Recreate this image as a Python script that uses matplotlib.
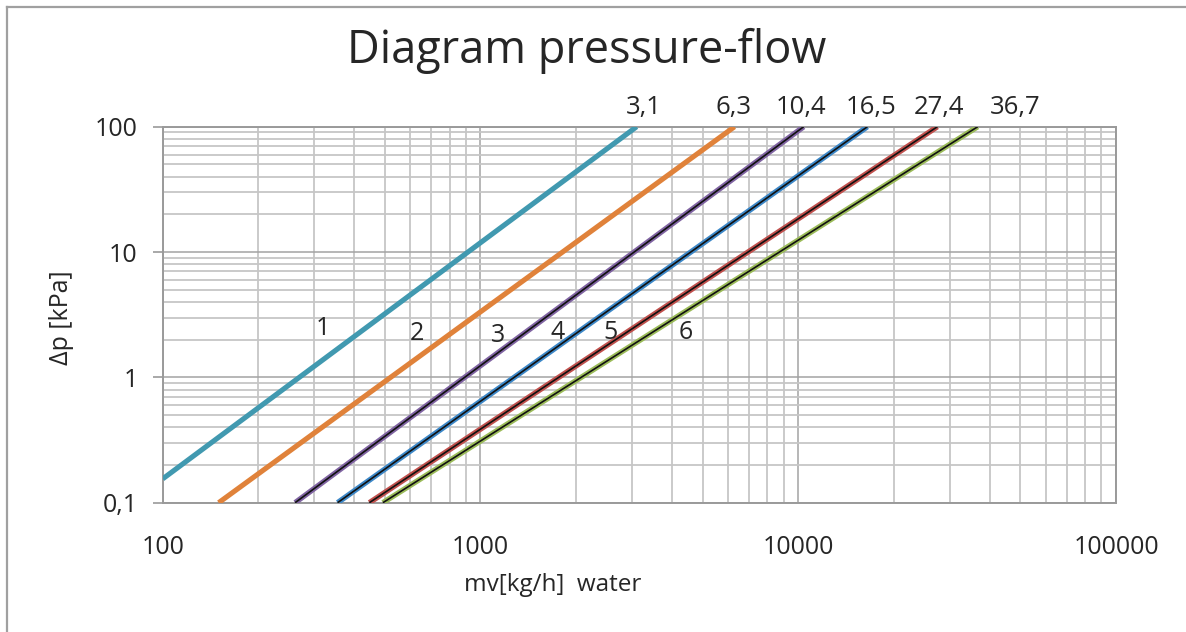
import matplotlib.pyplot as plt
from matplotlib.lines import Line2D
from matplotlib.ticker import FixedLocator, FixedFormatter, LogLocator, NullFormatter

# Data (start and end of each straight line on log-log)
kv_labels = ['3,1', '6,3', '10,4', '16,5', '27,4', '36,7']
curve_names = ['1', '2', '3', '4', '5', '6']
mv_start = [100, 150, 261, 355, 447, 493]
dp_start = [0.155, 0.1, 0.1, 0.1, 0.1, 0.1]
mv_end = [3100, 6300, 10400, 16500, 27400, 36700]
dp_end = [100, 100, 100, 100, 100, 100]

# where the text labels sit (data coords)
name_x = [320, 632, 1137, 1744, 2560, 4410]
name_y = [2.47, 2.25, 2.17, 2.29, 2.29, 2.29]
kv_x = [3253, 6270, 10190, 16940, 27730, 48270]
kv_y = 143

colors = ['#4199b0', '#e0823a', '#8064a2', '#3d88c8', '#c0504d', '#9bbb59']

x_ticks = [100, 1000, 10000, 100000]
x_ticklabels = ['100', '1000', '10000', '100000']
y_ticks = [0.1, 1, 10, 100]
y_ticklabels = ['0,1', '1', '10', '100']

plt.rcParams['font.family'] = ['Open Sans', 'DejaVu Sans']
txt = '#262626'

fig = plt.figure(figsize=(11.86, 6.32), dpi=100)
ax = fig.add_axes([0.1372, 0.2046, 0.941 - 0.1372, 0.7995 - 0.2046])
ax.set_xscale('log')
ax.set_yscale('log')
ax.set_xlim(100, 100000)
ax.set_ylim(0.1, 100)

for i in range(len(mv_start)):
    xs = [mv_start[i], mv_end[i]]
    ys = [dp_start[i], dp_end[i]]
    if i < 2:
        ax.plot(xs, ys, color=colors[i], lw=3.7, solid_capstyle='butt', zorder=3)
    else:
        ax.plot(xs, ys, color=colors[i], lw=3.9, solid_capstyle='butt', zorder=3)
        ax.plot(xs, ys, color='#111111', lw=1.2, solid_capstyle='butt', zorder=4)
    ax.text(name_x[i], name_y[i], curve_names[i], fontsize=18, color=txt,
            ha='center', va='center', zorder=5)
    ax.text(kv_x[i], kv_y, kv_labels[i], fontsize=18.5, color=txt,
            ha='center', va='center', clip_on=False)

ax.xaxis.set_major_locator(FixedLocator(x_ticks))
ax.xaxis.set_major_formatter(FixedFormatter(x_ticklabels))
ax.yaxis.set_major_locator(FixedLocator(y_ticks))
ax.yaxis.set_major_formatter(FixedFormatter(y_ticklabels))
ax.xaxis.set_minor_locator(LogLocator(base=10, subs=range(2, 10)))
ax.yaxis.set_minor_locator(LogLocator(base=10, subs=range(2, 10)))
ax.xaxis.set_minor_formatter(NullFormatter())
ax.yaxis.set_minor_formatter(NullFormatter())

ax.grid(which='major', color='#a3a3a3', lw=1.1)
ax.grid(which='minor', color='#c6c6c6', lw=1.3)
ax.set_axisbelow(True)
for s in ax.spines.values():
    s.set_color('#9a9a9a')
    s.set_linewidth(1.4)

ax.tick_params(axis='y', which='major', length=7, width=1.2, color='#9a9a9a',
               labelsize=18, labelcolor=txt, pad=11)
ax.tick_params(axis='x', which='major', length=0, labelsize=18, labelcolor=txt, pad=23)
ax.tick_params(which='minor', length=0)

fig.text(0.495, 0.9003, 'Diagram pressure-flow', fontsize=32.5, color=txt,
         ha='center', va='baseline')
fig.text(553 / 1186, 1 - 585 / 632, 'mv[kg/h]  water', fontsize=17.5, color=txt,
         ha='center', va='center')
fig.text(62 / 1186, 1 - 318 / 632, 'Δp [kPa]', fontsize=18, color=txt,
         ha='center', va='center', rotation=90)

# outer frame of the chart area (cut off on right and bottom)
fig.add_artist(Line2D([7 / 1186, 7 / 1186], [0, 1 - 7 / 632], transform=fig.transFigure,
                      color='#a0a0a0', lw=1.6))
fig.add_artist(Line2D([7 / 1186, 1], [1 - 7 / 632, 1 - 7 / 632], transform=fig.transFigure,
                      color='#a0a0a0', lw=1.6))

fig.savefig('out.png', dpi=100)
